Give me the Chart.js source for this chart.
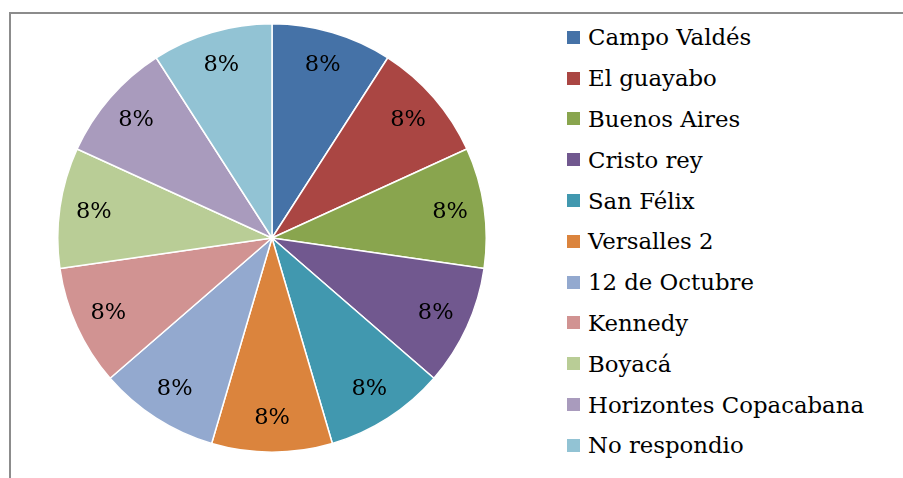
<!DOCTYPE html>
<html>
<head>
<meta charset="utf-8">
<script src="https://cdn.jsdelivr.net/npm/chart.js@4/dist/chart.umd.min.js"></script>
<style>
  body { margin: 0; background: #fff; width: 903px; height: 478px; overflow: hidden; position: relative; font-family: "DejaVu Serif", serif; }
  #frame { position: absolute; left: 9px; top: 12px; width: 900px; height: 480px; border-top: 2px solid #8c8c8c; border-left: 2px solid #8c8c8c; }
  #wrap { position: absolute; left: 57px; top: 23px; width: 430px; height: 430px; }
  #legend { position: absolute; left: 567px; top: 17px; }
  .row { height: 40.8px; display: flex; align-items: center; font-size: 22.8px; color: #000; }
  .sw { width: 13px; height: 13px; margin-right: 8px; }
</style>
</head>
<body>
<div id="frame"></div>
<div id="wrap"><canvas id="pie"></canvas></div>
<div id="legend"></div>
<script>
// barrios
const categories = ['Campo Valdés', 'El guayabo', 'Buenos Aires', 'Cristo rey', 'San Félix', 'Versalles 2',
  '12 de Octubre', 'Kennedy', 'Boyacá', 'Horizontes Copacabana', 'No respondio'];
const values = [8, 8, 8, 8, 8, 8, 8, 8, 8, 8, 8];
const valueLabels = ['8%', '8%', '8%', '8%', '8%', '8%', '8%', '8%', '8%', '8%', '8%'];
const colors = ['#4572A7', '#AA4643', '#89A54E', '#71588F', '#4198AF', '#DB843D',
  '#93A9CF', '#D19392', '#B9CD96', '#A99BBD', '#92C3D4'];

// leyenda a mano
const leg = document.getElementById('legend');
categories.forEach(function(c, i) {
  const row = document.createElement('div');
  row.className = 'row';
  row.innerHTML = '<div class="sw" style="background:' + colors[i] + '"></div><span>' + c + '</span>';
  leg.appendChild(row);
});

// etiquetas de porcentaje dentro de cada sector
const sliceLabels = {
  id: 'sliceLabels',
  afterDatasetsDraw(chart) {
    const ctx = chart.ctx;
    ctx.save();
    ctx.font = '22.5px "DejaVu Serif", serif';
    ctx.fillStyle = '#000';
    ctx.textAlign = 'center';
    ctx.textBaseline = 'middle';
    chart.getDatasetMeta(0).data.forEach(function(arc, i) {
      const mid = (arc.startAngle + arc.endAngle) / 2;
      const r = arc.outerRadius * 0.84;
      ctx.fillText(valueLabels[i], arc.x + Math.cos(mid) * r, arc.y + Math.sin(mid) * r);
    });
    ctx.restore();
  }
};

new Chart(document.getElementById('pie'), {
  type: 'pie',
  data: {
    labels: categories,
    datasets: [{
      data: values,
      backgroundColor: colors,
      borderColor: '#fff',
      borderWidth: 1.5
    }]
  },
  options: {
    responsive: true,
    maintainAspectRatio: false,
    animation: false,
    layout: { padding: 0 },
    plugins: {
      legend: { display: false },
      tooltip: { enabled: false }
    }
  },
  plugins: [sliceLabels]
});
</script>
</body>
</html>
